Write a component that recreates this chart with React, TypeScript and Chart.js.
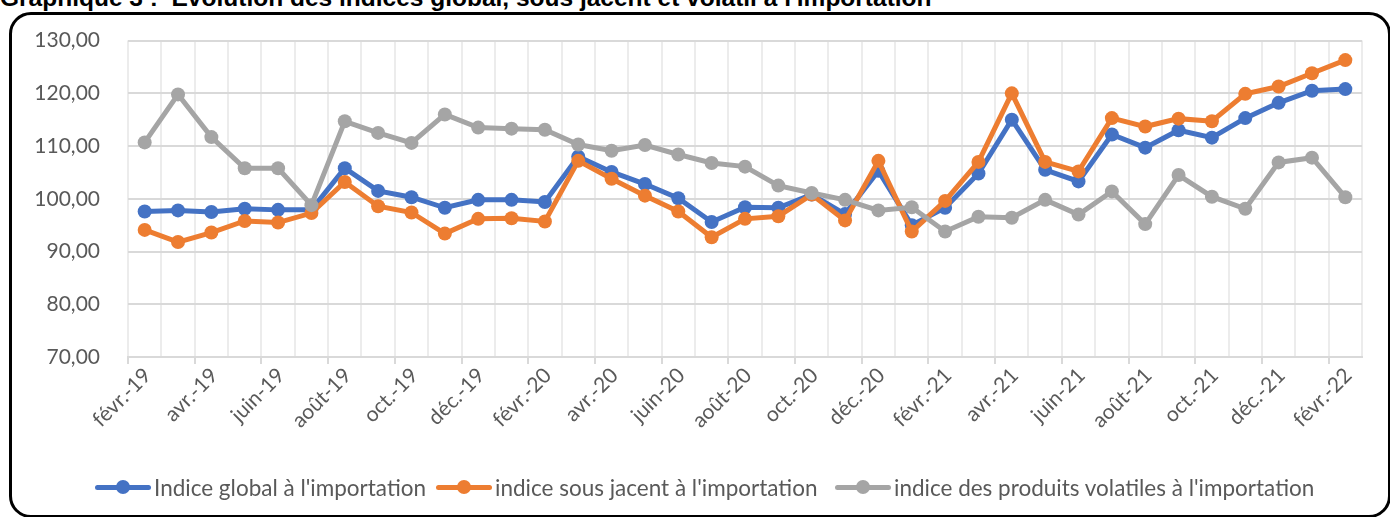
import React, { useEffect, useRef } from "react";
import { Chart, registerables } from "chart.js";

Chart.register(...registerables);

const categories = [
  "févr.-19", "mars-19", "avr.-19", "mai-19", "juin-19", "juil.-19", "août-19", "sept.-19", "oct.-19", "nov.-19", "déc.-19", "janv.-20",
  "févr.-20", "mars-20", "avr.-20", "mai-20", "juin-20", "juil.-20", "août-20", "sept.-20", "oct.-20", "nov.-20", "déc.-20", "janv.-21",
  "févr.-21", "mars-21", "avr.-21", "mai-21", "juin-21", "juil.-21", "août-21", "sept.-21", "oct.-21", "nov.-21", "déc.-21", "janv.-22",
  "févr.-22",
];

const indiceGlobal = [
  97.6, 97.8, 97.5, 98.1, 97.9, 97.9, 105.8, 101.5, 100.3, 98.3, 99.8, 99.8,
  99.4, 108.0, 105.1, 102.8, 100.1, 95.6, 98.4, 98.3, 100.8, 97.1, 105.3, 95.0,
  98.3, 104.8, 115.0, 105.5, 103.3, 112.2, 109.7, 113.0, 111.6, 115.3, 118.2, 120.5,
  120.8,
];

const indiceSousJacent = [
  94.1, 91.8, 93.6, 95.8, 95.5, 97.3, 103.2, 98.6, 97.4, 93.4, 96.2, 96.3,
  95.7, 107.2, 103.8, 100.6, 97.6, 92.7, 96.2, 96.7, 100.8, 95.9, 107.2, 93.8,
  99.6, 107.0, 120.0, 107.0, 105.2, 115.3, 113.7, 115.2, 114.7, 119.9, 121.3, 123.8,
  126.3,
];

const indiceVolatil = [
  110.7, 119.8, 111.7, 105.8, 105.8, 98.8, 114.7, 112.5, 110.6, 116.0, 113.5, 113.3,
  113.1, 110.3, 109.1, 110.2, 108.4, 106.8, 106.1, 102.5, 101.1, 99.8, 97.8, 98.4,
  93.8, 96.6, 96.4, 99.8, 97.0, 101.4, 95.2, 104.5, 100.4, 98.1, 106.9, 107.8,
  100.3,
];

const seriesNames = [
  "Indice global à l'importation",
  "indice sous jacent à l'importation",
  "indice des produits volatiles à l'importation",
];
const seriesColors = ["#4472C4", "#ED7D31", "#A5A5A5"];

const yMin = 70;
const yMax = 130;
const yStep = 10;

const FONT = "Lato, 'Liberation Sans', sans-serif";
const TEXT = "#595959";

export default function App() {
  const ref = useRef<HTMLCanvasElement | null>(null);

  useEffect(() => {
    if (!ref.current) return;
    const mk = (label: string, data: number[], color: string, order: number) => ({
      label,
      data,
      borderColor: color,
      backgroundColor: color,
      borderWidth: 5,
      pointRadius: 7,
      pointHoverRadius: 7,
      pointBorderWidth: 0,
      pointBackgroundColor: color,
      tension: 0,
      order,
    });
    const chart = new Chart(ref.current, {
      type: "line",
      data: {
        labels: categories,
        datasets: [
          mk(seriesNames[0], indiceGlobal, seriesColors[0], 3),
          mk(seriesNames[1], indiceSousJacent, seriesColors[1], 2),
          mk(seriesNames[2], indiceVolatil, seriesColors[2], 1),
        ],
      },
      options: {
        animation: false,
        responsive: false,
        maintainAspectRatio: false,
        layout: { padding: { left: 0, right: 28, top: 38, bottom: 60 } },
        plugins: { legend: { display: false }, tooltip: { enabled: false }, title: { display: false } },
        scales: {
          x: {
            type: "category",
            offset: true,
            grid: {
              offset: true,
              color: "#ececec",
              lineWidth: 2,
              drawTicks: true,
              tickLength: 7,
              tickWidth: 2,
              tickColor: (ctx: any) =>
                ctx.index !== undefined && ctx.index % 2 === 0 ? "#d9d9d9" : "rgba(0,0,0,0)",
            },
            border: { display: true, color: "#d9d9d9", width: 2 },
            ticks: {
              autoSkip: false,
              maxRotation: 45,
              minRotation: 45,
              padding: -1,
              labelOffset: 3,
              color: TEXT,
              font: { family: FONT, size: 21 },
              callback: (_v: any, i: number) => (i % 2 === 0 ? categories[i] : ""),
            },
            afterFit: (s: any) => {
              s.height = 100;
            },
          },
          y: {
            min: yMin,
            max: yMax,
            grid: { color: "#d9d9d9", lineWidth: 2, drawTicks: false },
            border: { display: false },
            ticks: {
              stepSize: yStep,
              padding: 28,
              color: TEXT,
              font: { family: FONT, size: 21 },
              callback: (v: any) => Number(v).toFixed(2).replace(".", ","),
            },
            afterFit: (s: any) => {
              s.width = 128;
            },
          },
        },
      },
    });
    return () => chart.destroy();
  }, []);

  const legendLefts = [95, 436, 835];

  return (
    <div style={{ position: "absolute", left: 0, top: 0, width: 1390, height: 517, overflow: "hidden", background: "#fff" }}>
      <div
        style={{
          position: "absolute",
          left: 0,
          top: -14,
          whiteSpace: "nowrap",
          font: "bold 24.5px 'Liberation Sans', Arial, sans-serif",
          lineHeight: "24px",
          color: "#000",
        }}
      >
        Graphique 3 :&nbsp; Evolution des indices global, sous jacent et volatil à l'importation
      </div>
      <div
        style={{
          position: "absolute",
          left: 9,
          top: 12,
          width: 1376,
          height: 500,
          border: "3px solid #000",
          borderRadius: 22,
        }}
      />
      <canvas ref={ref} width={1390} height={517} style={{ position: "absolute", left: 0, top: 0, width: 1390, height: 517 }} />
      {seriesNames.map((name, i) => (
        <div
          key={name}
          style={{
            position: "absolute",
            left: legendLefts[i],
            top: 474,
            height: 26,
            display: "flex",
            alignItems: "center",
            whiteSpace: "nowrap",
            font: `22.5px ${FONT}`,
            color: TEXT,
          }}
        >
          <span style={{ position: "relative", display: "inline-block", width: 56, height: 26, marginRight: 3 }}>
            <span
              style={{
                position: "absolute",
                left: 0,
                top: 10.5,
                width: 56,
                height: 5,
                borderRadius: 2.5,
                background: seriesColors[i],
              }}
            />
            <span
              style={{
                position: "absolute",
                left: 21,
                top: 6,
                width: 14,
                height: 14,
                borderRadius: 7,
                background: seriesColors[i],
              }}
            />
          </span>
          <span>{name}</span>
        </div>
      ))}
    </div>
  );
}
